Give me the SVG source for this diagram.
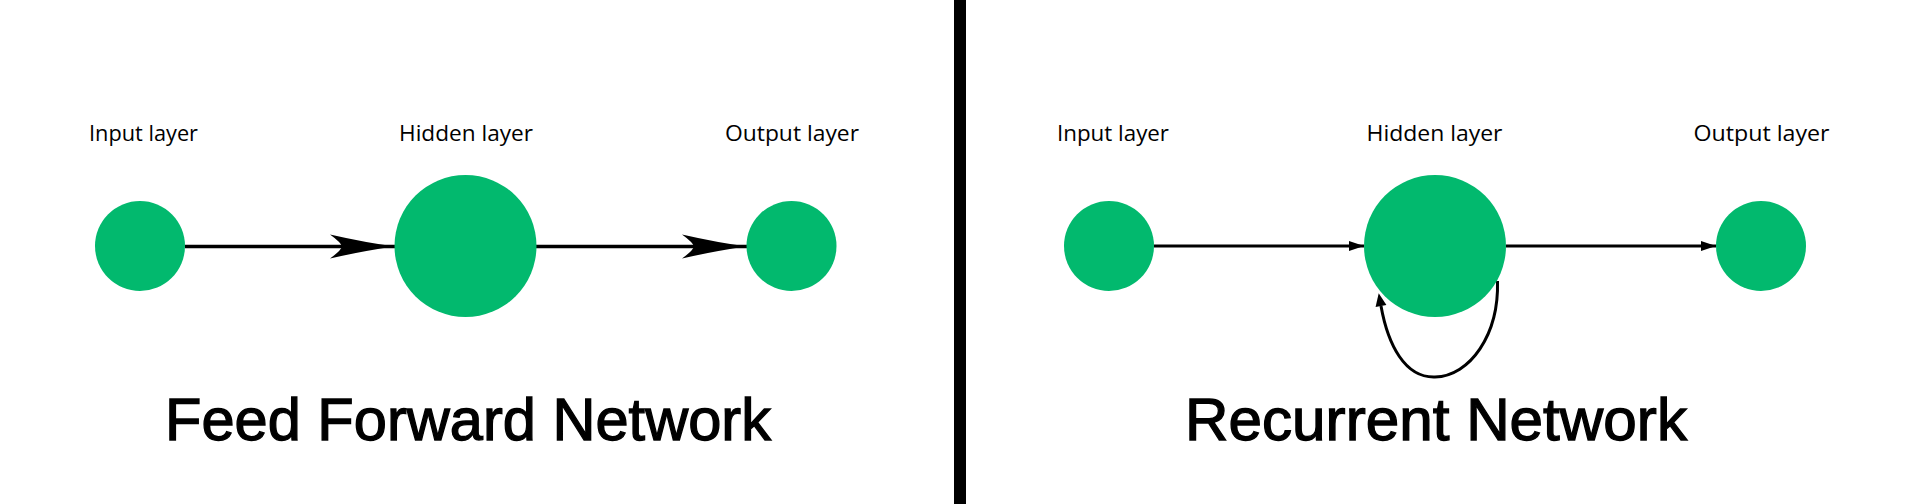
<svg xmlns="http://www.w3.org/2000/svg" width="1920" height="504" viewBox="0 0 1920 504">
<style>
.node{fill:#02B96E}
.lbl{font-family:"Open Sans","Liberation Sans",sans-serif;font-size:22px;fill:#000;text-anchor:middle}
.title{font-family:"Liberation Sans",Arial,sans-serif;font-size:59.5px;fill:#000;stroke:#000;stroke-width:1.3}
.ff{stroke:#000;stroke-width:3.5;fill:none}
.rn{stroke:#000;stroke-width:3;fill:none}
</style>
<defs>
<marker id="bigHead" markerUnits="userSpaceOnUse" markerWidth="80" markerHeight="40" refX="70" refY="20" orient="auto" overflow="visible">
<path d="M70,20 Q40,16 5,8 Q16,16 17,20 Q16,24 5,32 Q40,24 70,20 Z" fill="#000"/>
</marker>
<marker id="smallHead" markerUnits="userSpaceOnUse" markerWidth="16" markerHeight="12" refX="15" refY="6" orient="auto" overflow="visible">
<path d="M0,1 L15,6 L0,11 Z" fill="#000"/>
</marker>
<marker id="loopHead" markerUnits="userSpaceOnUse" markerWidth="14" markerHeight="12" refX="0" refY="6" orient="auto" overflow="visible">
<path d="M0,0.5 L13,6 L0,11.5 Z" fill="#000"/>
</marker>
</defs>
<rect width="1920" height="504" fill="#fff"/>
<rect id="divider" x="954" y="0" width="12" height="504" fill="#000"/>
<g id="connectors">
<line class="ff" x1="185" y1="246.5" x2="395" y2="246.5" marker-end="url(#bigHead)"/>
<line class="ff" x1="536" y1="246.5" x2="747" y2="246.5" marker-end="url(#bigHead)"/>
<line class="rn" x1="1154" y1="246" x2="1364" y2="246" marker-end="url(#smallHead)"/>
<line class="rn" x1="1506" y1="246" x2="1716" y2="246" marker-end="url(#smallHead)"/>
<path class="rn" d="M1497.5,281 C1499,335 1470,376 1435,377 C1405,378 1388,345 1381,306" marker-end="url(#loopHead)"/>
</g>
<g id="ff-input"><circle class="node" cx="140" cy="246" r="45"/><text class="lbl" x="143.5" y="141" textLength="109" lengthAdjust="spacingAndGlyphs">Input layer</text></g>
<g id="ff-hidden"><circle class="node" cx="465.5" cy="246" r="71"/><text class="lbl" x="466" y="141" textLength="134" lengthAdjust="spacingAndGlyphs">Hidden layer</text></g>
<g id="ff-output"><circle class="node" cx="791.5" cy="246" r="45"/><text class="lbl" x="792" y="141" textLength="134" lengthAdjust="spacingAndGlyphs">Output layer</text></g>
<g id="rn-input"><circle class="node" cx="1109" cy="246" r="45"/><text class="lbl" x="1113" y="141" textLength="112" lengthAdjust="spacingAndGlyphs">Input layer</text></g>
<g id="rn-hidden"><circle class="node" cx="1435" cy="246" r="71"/><text class="lbl" x="1434.5" y="141" textLength="136" lengthAdjust="spacingAndGlyphs">Hidden layer</text></g>
<g id="rn-output"><circle class="node" cx="1761" cy="246" r="45"/><text class="lbl" x="1761.5" y="141" textLength="136" lengthAdjust="spacingAndGlyphs">Output layer</text></g>
<text id="ff-title" class="title" x="165" y="440" textLength="606" lengthAdjust="spacingAndGlyphs">Feed Forward Network</text>
<text id="rn-title" class="title" x="1185" y="440" textLength="502" lengthAdjust="spacingAndGlyphs">Recurrent Network</text>
</svg>
